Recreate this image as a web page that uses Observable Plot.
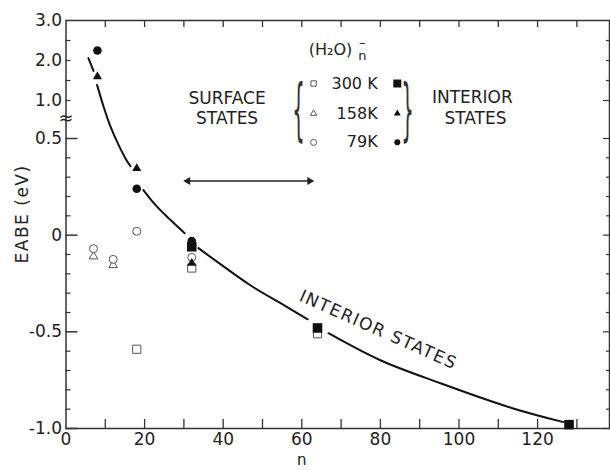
<!DOCTYPE html>
<html><head><meta charset="utf-8">
<script src="https://cdn.jsdelivr.net/npm/d3@7"></script>
<script src="https://cdn.jsdelivr.net/npm/@observablehq/plot@0.6"></script>
<style>body{margin:0;background:#fff} svg{display:block}</style>
</head><body><div id="chart"></div>
<script>
// ---- data ----
const surface300N = [18, 32, 64];
const surface300V = [-0.59, -0.17, -0.51];
const surface158N = [7, 12];
const surface158V = [-0.11, -0.155];
const surface79N = [7, 12, 18, 32];
const surface79V = [-0.07, -0.125, 0.02, -0.115];
const interior300N = [32, 64, 128];
const interior300V = [-0.06, -0.48, -0.98];
const interior158N = [8, 18, 32];
const interior158V = [1.6, 0.345, -0.145];
const interior79N = [8, 18, 32];
const interior79V = [2.25, 0.24, -0.03];

// fitted "interior states" curve (gaps where it is interrupted)
const curveN = [5.7, 7.0, NaN, 7.9, 9.5, 11.3, 13.4, 15.4, 16.4, NaN, 19.7, 22.8, 26.6, 30.2, NaN, 33.7, 39.3, 46.9, 54.6, 61.5, NaN, 66.8, 80, 95.3, 113.6, 126.6];
const curveV = [2.06, 1.74, NaN, 1.39, 0.93, 0.66, 0.466, 0.388, 0.357, NaN, 0.233, 0.155, 0.078, 0.01, NaN, -0.067, -0.15, -0.259, -0.352, -0.435, NaN, -0.507, -0.647, -0.766, -0.895, -0.967];

// axes
const xLabelVals = [0, 20, 40, 60, 80, 100, 120];
const xTickVals = [10, 20, 30, 40, 50, 60, 70, 80, 90, 100, 110, 120, 130];
const yLabelVals = [-1, -0.5, 0, 0.5, 1, 2, 3];
const yLabelText = ["-1.0", "-0.5", "0", "0.5", "1.0", "2.0", "3.0"];
const yMajorLow = [-1, -0.5, 0, 0.5];
const yMinorLow = [-0.9, -0.8, -0.7, -0.6, -0.4, -0.3, -0.2, -0.1, 0.1, 0.2, 0.3, 0.4];
const yMinorHigh = [1, 1.5, 2, 2.5];
const yBreakDomain = [-1, 0.5, 1, 3];

const legendTemps = ["300 K", "158K", "79K"];
const legendSymbols = ["square", "triangle", "circle"];

// ---- build tables ----
const pts = (N, V) => N.map((n, i) => ({n, v: V[i]}));
const curve = pts(curveN, curveV);

const W = 610, H = 470;
const mL = 65.5, mR = 1, mT = 20, mB = 42;
const fw = W - mL - mR, fh = H - mT - mB;
const font = "DejaVu Sans";

const legendRowsV = [1.425, 0.829, 0.48];
const legendOpen = legendSymbols.map((s, i) => ({s, n: 63, v: legendRowsV[i]}));
const legendFilled = legendSymbols.map((s, i) => ({s, n: 84.3, v: legendRowsV[i]}));
const legendText = legendTemps.map((t, i) => ({t, n: 79.3, v: legendRowsV[i]}));

const openStyle = {fill: "white", stroke: "#555", strokeWidth: 1};

const chart = Plot.plot({
  width: W, height: H,
  marginLeft: mL, marginRight: mR, marginTop: mT, marginBottom: mB,
  style: {fontFamily: font, fontSize: "16px", color: "#222", background: "#fff"},
  x: {domain: [0, 138.3], range: [mL, W - mR]},
  y: {type: "linear", domain: yBreakDomain, range: [H - mB, 138, 100, mT]},
  marks: [
    Plot.frame({stroke: "#333", strokeWidth: 1.5}),
    // inward ticks
    Plot.tickY(yMajorLow, {insetRight: fw - 12, stroke: "#333", strokeWidth: 1.5}),
    Plot.tickY(yMinorLow.concat(yMinorHigh), {insetRight: fw - 5, stroke: "#333", strokeWidth: 1.2}),
    Plot.tickY(yMajorLow.concat([1]), {insetLeft: fw - 6, stroke: "#333", strokeWidth: 1.2}),
    Plot.tickY(yMinorLow.concat([1.5, 2, 2.5]), {insetLeft: fw - 3, stroke: "#333", strokeWidth: 1.2}),
    Plot.tickX(xTickVals, {insetTop: fh - 9, stroke: "#333", strokeWidth: 1.3}),
    Plot.tickX(xTickVals, {insetBottom: fh - 7, stroke: "#333", strokeWidth: 1.3}),
    Plot.axisY({ticks: yLabelVals, tickSize: 0, tickPadding: 4, tickFormat: (d) => yLabelText[yLabelVals.indexOf(d)], label: null, fontSize: 17}),
    Plot.axisX({ticks: xLabelVals, tickSize: 0, tickPadding: 4, tickFormat: (d) => String(d), label: null, fontSize: 17}),
    Plot.text(["EABE (eV)"], {x: 0, y: 0.11, dx: -43, rotate: -90, fontSize: 17, fill: "#222"}),
    Plot.text(["n"], {x: 60, y: -1, dy: 32, fontSize: 15, fill: "#222"}),
    Plot.text(["≈"], {x: 0, y: 0.763, fontSize: 18, fill: "#222"}),
    // curve
    Plot.line(curve, {x: "n", y: "v", curve: "catmull-rom", stroke: "#111", strokeWidth: 2}),
    // points
    Plot.dot(pts(surface300N, surface300V), {x: "n", y: "v", symbol: "square", r: 4.6, ...openStyle}),
    Plot.dot(pts(surface158N, surface158V), {x: "n", y: "v", symbol: "triangle", r: 3.2, ...openStyle}),
    Plot.dot(pts(surface79N, surface79V), {x: "n", y: "v", symbol: "circle", r: 4, ...openStyle}),
    Plot.dot(pts(interior158N, interior158V), {x: "n", y: "v", symbol: "triangle", r: 3.4, fill: "#111"}),
    Plot.dot(pts(interior79N, interior79V), {x: "n", y: "v", symbol: "circle", r: 4.3, fill: "#111"}),
    Plot.dot(pts(interior300N, interior300V), {x: "n", y: "v", symbol: "square", r: 5.4, fill: "#111"}),
    // arrow
    Plot.link([0], {x1: 30.5, x2: 62.5, y1: 0.28, y2: 0.28, stroke: "#222", strokeWidth: 1.5}),
    Plot.dot([{n: 31, a: -90}, {n: 62, a: 90}], {x: "n", y: () => 0.28, symbol: "triangle", r: 3, rotate: "a", fill: "#222"}),
    // legend
    Plot.text(["(H₂O)"], {x: 67.3, y: 2.27, fontSize: 16, fill: "#222"}),
    Plot.text(["n"], {x: 75.4, y: 2.11, fontSize: 13, fill: "#222"}),
    Plot.text(["–"], {x: 75.4, y: 2.45, fontSize: 13, fill: "#222"}),
    Plot.text(["SURFACE", "STATES"], {x: [41, 41], y: [1.04, 0.76], fontSize: 17, fill: "#222"}),
    Plot.text(["INTERIOR", "STATES"], {x: [103.4, 104.2], y: [1.08, 0.76], fontSize: 17, fill: "#222"}),
    Plot.text(["{"], {x: [59.2], y: [0.86], fontSize: 22, fontFamily: "DejaVu Sans", fill: "#333"}),
    Plot.text(["}"], {x: [86.9], y: [0.86], fontSize: 22, fontFamily: "DejaVu Sans", fill: "#333"}),
    Plot.text(legendText, {x: "n", y: "v", text: "t", textAnchor: "end", fontSize: 16, fill: "#222"}),
    Plot.dot(legendOpen.filter(d => d.s === "square"), {x: "n", y: "v", symbol: "square", r: 3, ...openStyle}),
    Plot.dot(legendOpen.filter(d => d.s === "triangle"), {x: "n", y: "v", symbol: "triangle", r: 2.3, ...openStyle}),
    Plot.dot(legendOpen.filter(d => d.s === "circle"), {x: "n", y: "v", symbol: "circle", r: 3, ...openStyle}),
    Plot.dot(legendFilled.filter(d => d.s === "square"), {x: "n", y: "v", symbol: "square", r: 4.5, fill: "#111"}),
    Plot.dot(legendFilled.filter(d => d.s === "triangle"), {x: "n", y: "v", symbol: "triangle", r: 2.6, fill: "#111"}),
    Plot.dot(legendFilled.filter(d => d.s === "circle"), {x: "n", y: "v", symbol: "circle", r: 3, fill: "#111"}),
    // curve label
    Plot.text(["INTERIOR STATES"], {x: 79.5, y: -0.49, rotate: 24, fontSize: 17, fill: "#222"})
  ]
});

d3.select(chart).selectAll("text").filter(function() {
  return this.textContent === "{" || this.textContent === "}";
}).each(function() {
  const t = this.getAttribute("transform") || "";
  this.setAttribute("transform", t + " scale(0.9,3.05)");
});
d3.select(chart).selectAll("text").filter(function() {
  return this.textContent === "INTERIOR STATES" || this.textContent === "EABE (eV)";
}).attr("letter-spacing", "1.5px");

document.getElementById("chart").appendChild(chart);
</script>
</body></html>
